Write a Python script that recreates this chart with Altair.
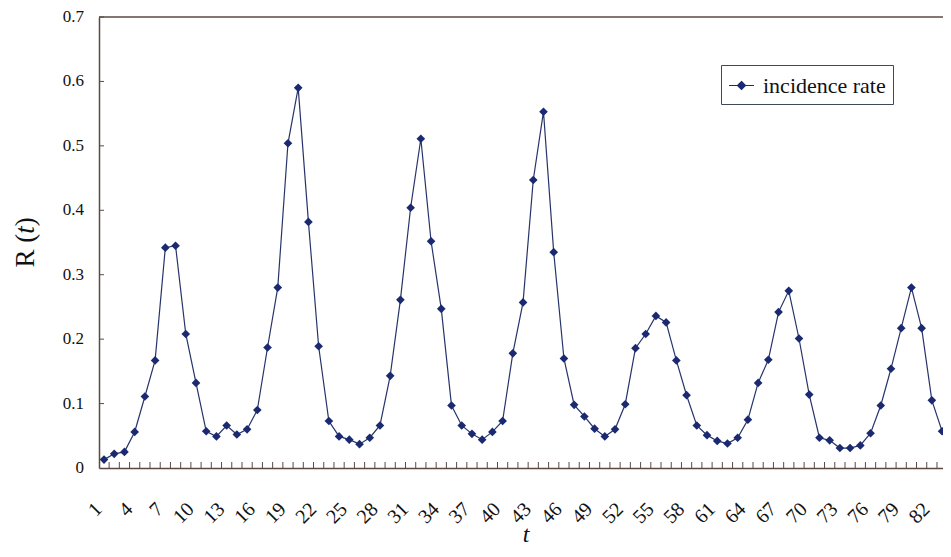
import altair as alt
import pandas as pd

t_values = list(range(1, 85))
r_values = [
    0.013, 0.022, 0.025, 0.056, 0.111, 0.167, 0.342, 0.345, 0.208, 0.132,
    0.057, 0.049, 0.066, 0.052, 0.060, 0.090, 0.187, 0.280, 0.504, 0.590,
    0.382, 0.189, 0.073, 0.049, 0.044, 0.037, 0.047, 0.066, 0.143, 0.261,
    0.404, 0.511, 0.352, 0.247, 0.097, 0.066, 0.053, 0.044, 0.056, 0.073,
    0.178, 0.257, 0.447, 0.553, 0.335, 0.170, 0.098, 0.080, 0.061, 0.049,
    0.060, 0.099, 0.186, 0.208, 0.236, 0.226, 0.167, 0.113, 0.066, 0.051,
    0.042, 0.038, 0.047, 0.075, 0.132, 0.168, 0.242, 0.275, 0.201, 0.114,
    0.047, 0.043, 0.031, 0.031, 0.035, 0.054, 0.097, 0.154, 0.217, 0.280,
    0.217, 0.105, 0.057, 0.038,
]
series_name = "incidence rate"
x_label_values = list(range(1, 83, 3))
y_label_values = [0, 0.1, 0.2, 0.3, 0.4, 0.5, 0.6, 0.7]
y_label_texts = ["0", "0.1", "0.2", "0.3", "0.4", "0.5", "0.6", "0.7"]
x_tick_positions = [i + 0.5 for i in range(0, 85)]
y_tick_positions = [0.1, 0.2, 0.3, 0.4, 0.5, 0.6, 0.7]
y_title_parts = ["R (", "t", ")"]
x_title = "t"

W, H = 844, 451
AXIS_COLOR = "#5c4a42"
LINE_COLOR = "#27346a"
MARK_COLOR = "#1b2a70"
FONT = "Times New Roman"

df = pd.DataFrame({"t": t_values, "R": r_values, "series": series_name})
xt = pd.DataFrame({"p": x_tick_positions})
yt = pd.DataFrame({"v": y_tick_positions})
xl = pd.DataFrame({"v": x_label_values, "s": [str(v) for v in x_label_values]})
yl = pd.DataFrame({"v": y_label_values, "s": y_label_texts})

xscale = alt.Scale(domain=[0.51, 83.09], nice=False, zero=False)
yscale = alt.Scale(domain=[0, 0.7], nice=False)

line = alt.Chart(df).mark_line(color=LINE_COLOR, strokeWidth=1.2, clip=True).encode(
    x=alt.X("t:Q", scale=xscale, axis=alt.Axis(labels=False, ticks=False, grid=False, title=None,
                                                domainColor=AXIS_COLOR, domainWidth=1.5)),
    y=alt.Y("R:Q", scale=yscale, axis=alt.Axis(labels=False, ticks=False, grid=False, title=None,
                                                domainColor=AXIS_COLOR, domainWidth=1.5)),
)

points = alt.Chart(df).mark_point(shape="diamond", filled=True, size=75, opacity=1, clip=True).encode(
    x=alt.X("t:Q", scale=xscale),
    y=alt.Y("R:Q", scale=yscale),
    color=alt.Color(
        "series:N",
        scale=alt.Scale(range=[MARK_COLOR]),
        legend=alt.Legend(
            title=None, orient="none", legendX=622, legendY=48,
            symbolType="M-1,0L1,0M0,-0.32L0.32,0L0,0.32L-0.32,0Z",
            symbolSize=620, symbolStrokeWidth=1.2, symbolStrokeColor=MARK_COLOR,
            symbolFillColor=MARK_COLOR, labelFont=FONT, labelFontSize=22,
            labelColor="#111", strokeColor="#3c4a5a", padding=7,
            fillColor="white", labelOffset=8,
        ),
    ),
)

top_border = alt.Chart(pd.DataFrame({"v": [0.7]})).mark_rule(color=AXIS_COLOR, strokeWidth=1.5).encode(
    y=alt.Y("v:Q", scale=yscale), x=alt.value(0), x2=alt.value(W)
)

x_ticks = alt.Chart(xt).mark_rule(color=AXIS_COLOR, strokeWidth=1, clip=True).encode(
    x=alt.X("p:Q", scale=xscale), y=alt.value(H), y2=alt.value(H - 6)
)
y_ticks = alt.Chart(yt).mark_rule(color=AXIS_COLOR, strokeWidth=1).encode(
    y=alt.Y("v:Q", scale=yscale), x=alt.value(0), x2=alt.value(5)
)

x_labels = alt.Chart(xl).transform_calculate(pos="datum.v - 1.2").mark_text(
    angle=315, align="right", baseline="top", font=FONT, fontSize=20, color="#111"
).encode(x=alt.X("pos:Q", scale=xscale), y=alt.value(H + 31), text="s:N")

y_labels = alt.Chart(yl).mark_text(
    align="right", baseline="middle", font=FONT, fontSize=17, color="#111"
).encode(y=alt.Y("v:Q", scale=yscale), x=alt.value(-15), text="s:N")

x_title_mark = alt.Chart(pd.DataFrame({"s": [x_title]})).mark_text(
    align="center", baseline="alphabetic", font=FONT, fontSize=24, fontStyle="italic", color="#111"
).encode(x=alt.value(427), y=alt.value(H + 74), text="s:N")

title_base = dict(angle=270, align="left", baseline="middle", font=FONT, fontSize=27, color="#111")
ytitle_a = alt.Chart(pd.DataFrame({"s": [y_title_parts[0]]})).mark_text(**title_base).encode(
    text="s:N", x=alt.value(-73), y=alt.value(250.5)
)
ytitle_b = alt.Chart(pd.DataFrame({"s": [y_title_parts[1]]})).mark_text(fontStyle="italic", **title_base).encode(
    text="s:N", x=alt.value(-73), y=alt.value(216.75)
)
ytitle_c = alt.Chart(pd.DataFrame({"s": [y_title_parts[2]]})).mark_text(**title_base).encode(
    text="s:N", x=alt.value(-73), y=alt.value(209.2)
)

chart = alt.layer(
    line, top_border, x_ticks, y_ticks, points, x_labels, y_labels, x_title_mark,
    ytitle_a, ytitle_b, ytitle_c
).properties(
    width=W, height=H,
    autosize=alt.AutoSizeParams(type="none"),
    padding={"left": 91, "top": 9, "right": 0, "bottom": 81},
).configure_view(stroke=None)

chart.save("out.html", embed_options={"renderer": "svg", "actions": False})
